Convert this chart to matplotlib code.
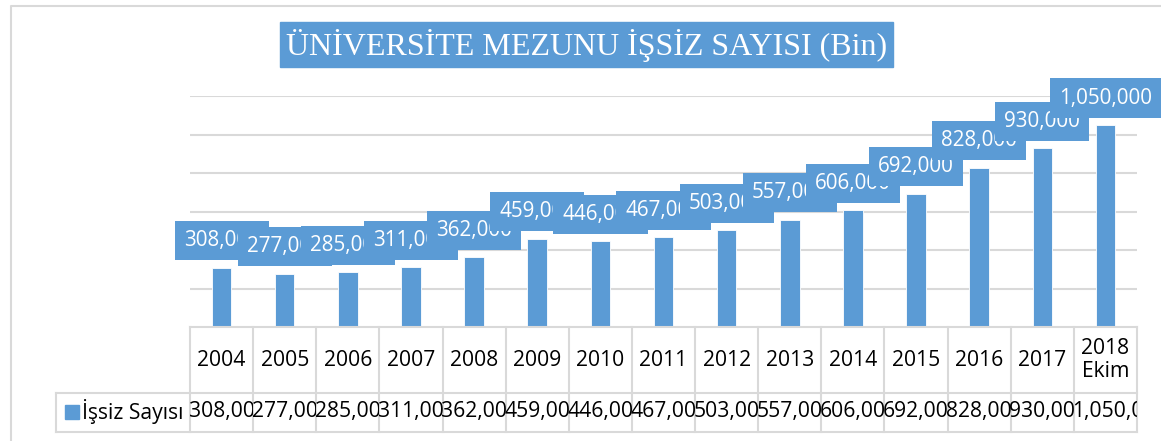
import matplotlib
matplotlib.use('Agg')
import matplotlib.pyplot as plt
import matplotlib.patches as mpatches
from matplotlib.lines import Line2D
from matplotlib.transforms import Bbox

# data
years = ['2004', '2005', '2006', '2007', '2008', '2009', '2010', '2011',
         '2012', '2013', '2014', '2015', '2016', '2017', '2018\nEkim']
values = [308000, 277000, 285000, 311000, 362000, 459000, 446000, 467000,
          503000, 557000, 606000, 692000, 828000, 930000, 1050000]
series_name = 'İşsiz Sayısı'
title = 'ÜNİVERSİTE MEZUNU İŞSİZ SAYISI (Bin)'

W, H = 1161, 441
BLUE = '#5B9BD5'
GRID = '#D9D9D9'
SANS = ['Open Sans', 'DejaVu Sans']
FS = 14.9      # data labels
FS_T = 15.2    # table text


def fx(x):
    return x / W


def fy(y):
    return 1 - y / H


fig = plt.figure(figsize=(W / 100, H / 100), dpi=100)

# chart frame (only top and left edges are in view)
fig.add_artist(Line2D([fx(11), fx(11), fx(W)], [fy(H), fy(6), fy(6)],
                      color=GRID, lw=1.5, transform=fig.transFigure))

# plot area
left, right, base, top = 190, 1137, 327, 96.3
ax = fig.add_axes([fx(left), fy(base), (right - left) / W, (base - top) / H])
x = list(range(len(values)))
ax.bar(x, values, width=0.31, color=BLUE, edgecolor='white', linewidth=0.6, zorder=2)
ax.set_xlim(-0.5, len(values) - 0.5)
ax.set_ylim(0, 1200000)
ax.set_yticks(range(200000, 1200001, 200000))
ax.grid(axis='y', color=GRID, lw=1.5, zorder=0)
ax.tick_params(left=False, bottom=False, labelleft=False, labelbottom=False)
for s in ax.spines.values():
    s.set_visible(False)

# data labels in blue boxes, later ones drawn over earlier ones
for i, v in enumerate(values):
    ax.annotate(f'{v:,}', xy=(i, v), xytext=(0, 19.5), textcoords='offset points',
                ha='center', va='center', fontsize=FS, color='white', family=SANS,
                bbox=dict(boxstyle='square,pad=0.44', fc=BLUE, ec='none'),
                annotation_clip=False, zorder=3 + i * 0.01)

# data table
row_mid = 393
tbot = 432
tax = fig.add_axes([fx(left), fy(tbot), (right - left) / W, (tbot - base) / H], sharex=ax)
tax.set_ylim(tbot, base)
tax.axis('off')
col_w = (right - left) / len(values)
legend_x0 = -0.5 - (left - 56) / col_w

tline = dict(color=GRID, lw=1.5, clip_on=False)
tax.plot([-0.5, len(values) - 0.5], [base, base], **tline)
tax.plot([legend_x0, len(values) - 0.5], [row_mid, row_mid], **tline)
tax.plot([legend_x0, len(values) - 0.5], [tbot, tbot], **tline)
tax.plot([legend_x0, legend_x0], [row_mid, tbot], **tline)
for k in range(len(values) + 1):
    tax.plot([k - 0.5, k - 0.5], [base, tbot], **tline)

for i, (yr, v) in enumerate(zip(years, values)):
    tax.text(i, 360, yr, ha='center', va='center', fontsize=FS_T, family=SANS,
             color='black', linespacing=1.1)
    t = tax.text(i - 0.52, 412, f'{v:,}', ha='left', va='center', fontsize=FS_T,
                 family=SANS, color='black')
    # clip each value to its own cell (display pixels, origin bottom-left)
    x0 = left + i * col_w - 1.5
    t.set_clip_path(None)
    t.set_clip_box(Bbox.from_extents(x0, H - tbot, left + (i + 1) * col_w, H - row_mid))
    t.set_clip_on(True)

sq = (79 - 65) / col_w
tax.add_patch(mpatches.Rectangle((legend_x0 + (65 - 56) / col_w, 405), sq, 14,
                                 color=BLUE, clip_on=False))
tax.text(legend_x0 + (82 - 56) / col_w, 412, series_name, ha='left', va='center',
         fontsize=FS_T, family=SANS, color='black')

# title box
fig.add_artist(mpatches.Rectangle((fx(280), fy(67)), (893 - 280) / W, 45 / H,
                                  color=BLUE, transform=fig.transFigure))
fig.text(fx(586.5), fy(45), title, ha='center', va='center', color='white',
         fontsize=23, family='Liberation Serif')

fig.savefig('out.png', dpi=100, facecolor='white')
